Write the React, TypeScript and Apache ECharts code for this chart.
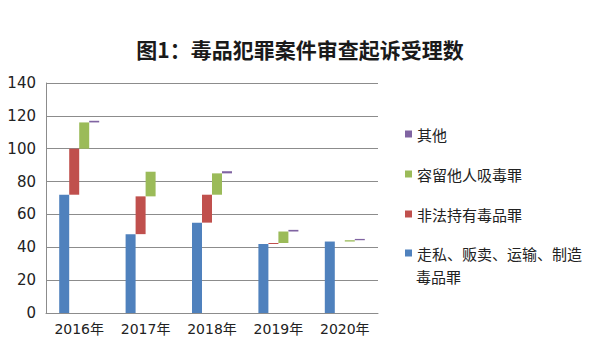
import React, { useEffect, useRef } from "react";
import * as echarts from "echarts";

const categories = ["2016年", "2017年", "2018年", "2019年", "2020年"];
const smuggling = [72, 48, 55, 42, 43.5];
const possession = [28, 23, 17, 0.6, 0];
const harboring = [16, 15, 13, 7, 0.8];
const other = [1, 0, 1.3, 1, 0.8];
const seriesNames = ["走私、贩卖、运输、制造毒品罪", "非法持有毒品罪", "容留他人吸毒罪", "其他"];
const legendFirstLine = "走私、贩卖、运输、制造";
const legendSecondLine = "毒品罪";
const colors = ["#4F81BD", "#C0504D", "#9BBB59", "#8064A2"];
const yTicks = { min: 0, max: 140, interval: 20 };

export default function App() {
  const ref = useRef<HTMLDivElement>(null);
  useEffect(() => {
    document.body.style.margin = "0";
    const chart = echarts.init(ref.current!, null, { renderer: "svg" });
    const values = [smuggling, possession, harboring, other];
    const bases: number[][] = [];
    values.forEach((arr, i) => {
      bases.push(arr.map((_, j) => {
        let s = 0;
        for (let k = 0; k < i; k++) s += values[k][j];
        return s;
      }));
    });
    const series: any[] = [];
    values.forEach((arr, i) => {
      series.push({
        type: "bar",
        stack: "s" + i,
        barWidth: 10,
        barGap: "0%",
        silent: true,
        itemStyle: { color: "transparent" },
        data: bases[i],
      });
      series.push({
        type: "bar",
        name: seriesNames[i],
        stack: "s" + i,
        barWidth: 10,
        barGap: "0%",
        itemStyle: { color: colors[i] },
        data: arr,
      });
    });
    const legendText = {
      fontFamily: "Noto Sans CJK SC",
      fontSize: 15,
      color: "#222",
      lineHeight: 16,
    };
    chart.setOption({
      animation: false,
      title: {
        text: "图1：毒品犯罪案件审查起诉受理数",
        left: "center",
        top: 33,
        textStyle: {
          fontFamily: "Noto Sans CJK SC",
          fontWeight: "bold",
          fontSize: 21,
          color: "#1a1a1a",
        },
      },
      legend: [
        {
          orient: "vertical",
          left: 400,
          top: 121,
          itemWidth: 7,
          itemHeight: 7,
          itemGap: 24,
          icon: "rect",
          data: [seriesNames[3], seriesNames[2], seriesNames[1]],
          textStyle: legendText,
        },
        {
          orient: "vertical",
          left: 400,
          top: 240,
          itemWidth: 7,
          itemHeight: 7,
          icon: "rect",
          data: [seriesNames[0]],
          formatter: () => legendFirstLine,
          textStyle: legendText,
        },
      ],
      graphic: [
        {
          type: "text",
          left: 416,
          top: 269,
          silent: true,
          style: {
            text: legendSecondLine,
            fontFamily: "Noto Sans CJK SC",
            fontSize: 15,
            fill: "#222",
          },
        },
      ],
      grid: { left: 46, right: 222, top: 83, bottom: 43 },
      xAxis: {
        type: "category",
        data: categories,
        axisLine: { lineStyle: { color: "#8c8c8c" } },
        axisTick: { show: false },
        axisLabel: {
          fontFamily: "DejaVu Sans, Noto Sans CJK SC",
          fontSize: 14,
          color: "#222",
          margin: 9,
        },
      },
      yAxis: {
        type: "value",
        min: yTicks.min,
        max: yTicks.max,
        interval: yTicks.interval,
        axisLine: { show: true, lineStyle: { color: "#8c8c8c" } },
        axisTick: { show: false },
        splitLine: { lineStyle: { color: "#8c8c8c", width: 1 } },
        axisLabel: {
          fontFamily: "DejaVu Sans",
          fontSize: 15,
          color: "#222",
          margin: 10,
        },
      },
      series,
    });
    return () => chart.dispose();
  }, []);
  return <div ref={ref} style={{ width: 600, height: 356 }} />;
}
